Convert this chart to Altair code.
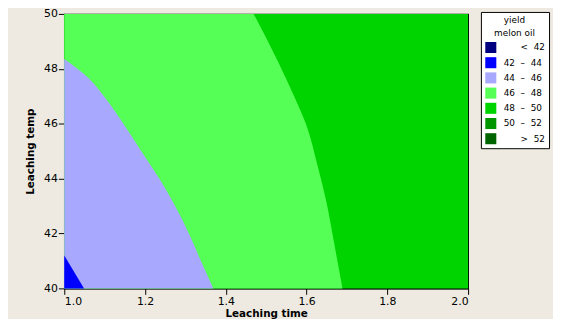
import altair as alt
import pandas as pd

NB = "\u00a0"
ZW = "\u200b"
# Band labels (legend) and colours
bands = [ZW + NB * 6 + "<" + NB * 2 + "42", "42" + NB * 2 + "–" + NB * 2 + "44", "44" + NB * 2 + "–" + NB * 2 + "46",
         "46" + NB * 2 + "–" + NB * 2 + "48", "48" + NB * 2 + "–" + NB * 2 + "50",
         "50" + NB * 2 + "–" + NB * 2 + "52", ZW + NB * 6 + ">" + NB * 2 + "52"]
band_colors = ["#000080", "#0000FF", "#A8A8FF", "#55FF55", "#00D400", "#009600", "#006400"]

# Contour boundaries: leaching temp (T) vs leaching time (t) where each band ends on the right
b44_T = [41.2, 40.0]
b44_t = [1.0, 1.049]
b46_T = [48.36, 47.65, 46.93, 46.16, 45.38, 44.66, 43.94, 43.23, 42.51, 41.79, 41.08, 40.0]
b46_t = [1.000, 1.061, 1.102, 1.139, 1.174, 1.206, 1.238, 1.266, 1.292, 1.315, 1.336, 1.369]
b48_T = [50.0, 48.24, 46.81, 45.97, 44.42, 43.23, 41.67, 40.0]
b48_t = [1.469, 1.530, 1.575, 1.599, 1.628, 1.648, 1.668, 1.689]
b50_T = [50.0, 40.0]
b50_t = [2.0, 2.0]

x_ticks = [1.0, 1.2, 1.4, 1.6, 1.8, 2.0]
y_ticks = [40, 42, 44, 46, 48, 50]


def region(T, t, band_idx):
    df = pd.DataFrame({"T": T, "t": t})
    df["t0"] = 1.0
    df["band"] = bands[band_idx]
    return df


color = alt.Color(
    "band:N",
    scale=alt.Scale(domain=bands, range=band_colors),
    legend=alt.Legend(
        title=["yield", "melon oil"],
        orient="none", legendX=422, legendY=-2,
        fillColor="white", strokeColor="black", padding=4,
        symbolType="square", symbolSize=125, symbolStrokeWidth=0,
        labelOffset=7, labelFontSize=9, labelFont="DejaVu Sans",
        titleFontSize=9, titleFont="DejaVu Sans", titleFontWeight="normal",
        titleAnchor="middle", titleAlign="center", titleLineHeight=13, titlePadding=4,
        rowPadding=3.4, labelColor="black", titleColor="black",
    ),
)

x_enc = alt.X("t:Q", scale=alt.Scale(domain=[1.0, 2.0], nice=False, zero=False),
              axis=alt.Axis(values=x_ticks, format=".1f", title="Leaching time"))
y_enc = alt.Y("T:Q", scale=alt.Scale(domain=[40, 50], nice=False, zero=False),
              axis=alt.Axis(values=y_ticks, format="d", title="Leaching temp"))


def layer(df):
    return alt.Chart(df).mark_area(orient="horizontal", interpolate="monotone").encode(
        y=y_enc, x=x_enc, x2="t0:Q", color=color
    )


chart = alt.layer(
    layer(region(b50_T, b50_t, 4)),
    layer(region(b48_T, b48_t, 3)),
    layer(region(b46_T, b46_t, 2)),
    layer(region(b44_T, b44_t, 1)),
).properties(
    width=409, height=278,
    autosize=alt.AutoSizeParams(type="none"),
    padding={"left": 57, "top": 4, "right": 86, "bottom": 29},
    background="#EEEAE1",
).configure_view(
    stroke="black", strokeWidth=1.2
).configure_axis(
    domainColor="black", tickColor="black", labelColor="black", titleColor="black",
    labelFont="DejaVu Sans", labelFontSize=11, titleFont="DejaVu Sans", titleFontSize=10.5,
    titleFontWeight="bold", tickSize=6, labelPadding=1, grid=False, domainWidth=1.2,
).configure_axisX(titlePadding=2).configure_axisY(titlePadding=8)

chart.save("out.html", embed_options={"renderer": "svg", "actions": False})
